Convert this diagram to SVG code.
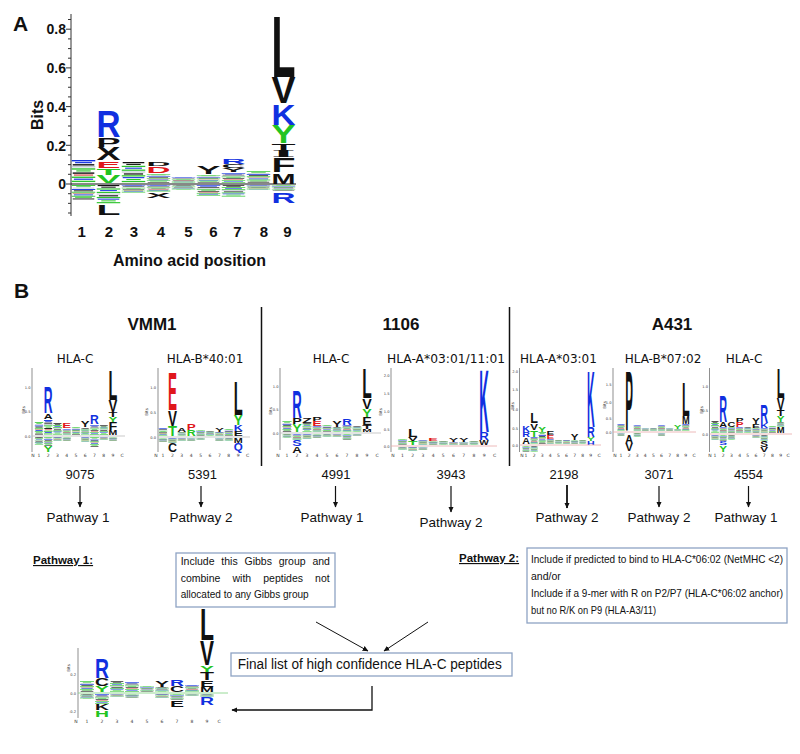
<svg xmlns="http://www.w3.org/2000/svg" xmlns:xlink="http://www.w3.org/1999/xlink" width="800" height="754" viewBox="0 0 800 754">
<style>
.lt{font-family:"Liberation Sans",Arial,sans-serif;font-weight:bold}
.lts{font-family:"Liberation Serif","Times New Roman",serif;font-weight:bold}
.bl{fill:#1030e0}.gr{fill:#22c422}.rd{fill:#e0161b}.bk{fill:#111}
.ax{stroke:#444;stroke-width:0.6;fill:none}
.z0{stroke:#bbb;stroke-width:0.8}
.zp{stroke:#e8a8a8;stroke-width:0.8}
.tk{font-family:"DejaVu Sans",sans-serif;font-size:3.6px;fill:#333;text-anchor:end}
.bt4{font-family:"DejaVu Sans",sans-serif;font-size:4px;fill:#333;text-anchor:middle}
.xl{font-family:"DejaVu Sans",sans-serif;font-size:4.5px;fill:#333;text-anchor:middle}
.hla{font-family:"DejaVu Sans",sans-serif;font-size:12px;fill:#111;text-anchor:middle}
.ttl{font-family:"Liberation Sans",Arial,sans-serif;font-weight:bold;font-size:17px;fill:#111;text-anchor:middle}
.num{font-family:"Liberation Sans",Arial,sans-serif;font-size:13px;fill:#111;text-anchor:middle}
.pw{font-family:"Liberation Sans",Arial,sans-serif;font-size:13.5px;fill:#111;text-anchor:middle}
.pl{font-family:"Liberation Sans",Arial,sans-serif;font-weight:bold;font-size:11.5px;fill:#111;text-decoration:underline}
.bx{fill:#fff;stroke:#8ea3c4;stroke-width:1.3}
.bt{font-family:"Liberation Sans",Arial,sans-serif;font-size:10.5px;fill:#111}
.conn{stroke:#111;stroke-width:1.2;fill:none}
.pa{font-family:"Liberation Sans",Arial,sans-serif;font-weight:bold;fill:#111}
</style>
<defs>
<marker id="ah" viewBox="0 0 10 10" refX="9" refY="5" markerWidth="6" markerHeight="6" markerUnits="userSpaceOnUse" orient="auto"><path d="M0,0.5 L10,5 L0,9.5 z" fill="#111"/></marker>
<symbol id="nA" viewBox="0 0 10 10" preserveAspectRatio="none">
<rect x="0" y="0" width="10" height="0.6" fill="#1030e0"/><rect x="1.5" y="0.9" width="7" height="0.5" fill="#1030e0"/><rect x="0.5" y="1.8" width="9" height="0.6" fill="#111"/><rect x="0" y="2.7" width="10" height="0.5" fill="#b9c0cc"/><rect x="0" y="3.6" width="10" height="0.6" fill="#2dc42d"/><rect x="2" y="4.5" width="6" height="0.5" fill="#2dc42d"/><rect x="0.5" y="5.4" width="9" height="0.6" fill="#111"/><rect x="1" y="6.3" width="8" height="0.5" fill="#d84040"/><rect x="0" y="7.2" width="10" height="0.6" fill="#2dc42d"/><rect x="1" y="8.1" width="8" height="0.5" fill="#1030e0"/><rect x="0" y="9.0" width="10" height="0.6" fill="#2dc42d"/>
</symbol>
<symbol id="nB" viewBox="0 0 10 10" preserveAspectRatio="none">
<rect x="0" y="0" width="10" height="0.6" fill="#2dc42d"/><rect x="2" y="0.9" width="6" height="0.5" fill="#2dc42d"/><rect x="0.5" y="1.8" width="9" height="0.5" fill="#b9c0cc"/><rect x="0" y="2.7" width="10" height="0.6" fill="#1030e0"/><rect x="1" y="3.6" width="8" height="0.6" fill="#111"/><rect x="0" y="4.5" width="10" height="0.6" fill="#2dc42d"/><rect x="0.5" y="5.4" width="9" height="0.5" fill="#c08a6a"/><rect x="1" y="6.3" width="8" height="0.6" fill="#1030e0"/><rect x="0" y="7.2" width="10" height="0.6" fill="#2dc42d"/><rect x="1.5" y="8.1" width="7" height="0.5" fill="#2dc42d"/><rect x="0.5" y="9.0" width="9" height="0.6" fill="#111"/>
</symbol>
<symbol id="nC" viewBox="0 0 10 10" preserveAspectRatio="none">
<rect x="0.5" y="0" width="9" height="0.6" fill="#111"/><rect x="2" y="0.9" width="6" height="0.5" fill="#111"/><rect x="0" y="1.8" width="10" height="0.6" fill="#2dc42d"/><rect x="1.5" y="2.7" width="7" height="0.5" fill="#1030e0"/><rect x="0" y="3.6" width="10" height="0.6" fill="#2dc42d"/><rect x="0" y="4.5" width="10" height="0.5" fill="#b9c0cc"/><rect x="1" y="5.4" width="8" height="0.6" fill="#111"/><rect x="0" y="6.3" width="10" height="0.6" fill="#2dc42d"/><rect x="0.5" y="7.2" width="9" height="0.5" fill="#1030e0"/><rect x="2" y="8.1" width="6" height="0.5" fill="#2dc42d"/><rect x="0" y="9.0" width="10" height="0.6" fill="#2dc42d"/>
</symbol>
</defs>
<rect width="800" height="754" fill="#fff"/>

<!-- PANEL A -->
<g id="panelA">
<text class="pa" x="13" y="31" font-size="21">A</text>
<line x1="71" y1="14" x2="71" y2="216" stroke="#333" stroke-width="1"/>
<path d="M68,19.5h3M66,29.2h5M68,38.9h3M68,48.6h3M68,58.2h3M66,67.9h5M68,77.6h3M68,87.25h3M68,96.9h3M66,106.6h5M68,116.3h3M68,126h3M68,135.6h3M66,145.3h5M68,155h3M68,164.65h3M68,174.3h3M66,184h5M68,193.7h3M68,203.35h3M68,213h3" stroke="#333" stroke-width="1"/>
<g class="pa" font-size="14" text-anchor="end">
<text x="66" y="34.3">0.8</text><text x="66" y="73.3">0.6</text><text x="66" y="111.7">0.4</text><text x="66" y="150.7">0.2</text><text x="66" y="189">0</text>
</g>
<text class="pa" font-size="16" text-anchor="middle" transform="translate(43,115) rotate(-90)">Bits</text>
<use href="#nA" x="71.5" y="160" width="24" height="23"/><use href="#nB" x="71.5" y="185" width="24" height="15"/>
<use href="#nC" x="121.5" y="162" width="24" height="21"/><use href="#nA" x="121.5" y="185" width="24" height="8"/>
<text class="lt bk" x="146.5" y="166" font-size="5.6" textLength="24" lengthAdjust="spacingAndGlyphs">D</text>
<text class="lt rd" x="146.5" y="173" font-size="8.4" textLength="24" lengthAdjust="spacingAndGlyphs">D</text>
<use href="#nB" x="146.5" y="174" width="24" height="9"/><use href="#nA" x="146.5" y="185" width="24" height="7"/>
<text class="lt bk" x="146.5" y="198" font-size="7" textLength="24" lengthAdjust="spacingAndGlyphs">X</text>
<use href="#nA" x="171.5" y="177" width="24" height="6"/><use href="#nC" x="171.5" y="185" width="24" height="5"/>
<text class="lt bk" x="196.5" y="174" font-size="11.2" textLength="24" lengthAdjust="spacingAndGlyphs">Y</text>
<use href="#nB" x="196.5" y="175" width="24" height="8"/><use href="#nA" x="196.5" y="185" width="24" height="11"/>
<text class="lt bl" x="221.5" y="164" font-size="7" textLength="24" lengthAdjust="spacingAndGlyphs">R</text>
<text class="lt bk" x="221.5" y="168" font-size="5.6" textLength="24" lengthAdjust="spacingAndGlyphs">C</text>
<text class="lt bk" x="221.5" y="172" font-size="5.6" textLength="24" lengthAdjust="spacingAndGlyphs">Y</text>
<use href="#nA" x="221.5" y="173" width="24" height="10"/><use href="#nC" x="221.5" y="185" width="24" height="12"/>
<use href="#nB" x="246.5" y="171" width="24" height="12"/><use href="#nA" x="246.5" y="185" width="24" height="5"/>
<text class="lt bl" x="96.5" y="137" font-size="37.7" textLength="24" lengthAdjust="spacingAndGlyphs">R</text>
<text class="lt bk" x="96.5" y="147" font-size="13.3" textLength="24" lengthAdjust="spacingAndGlyphs">P</text>
<text class="lt bk" x="96.5" y="160" font-size="17.5" textLength="24" lengthAdjust="spacingAndGlyphs">X</text>
<text class="lt rd" x="96.5" y="168" font-size="9.8" textLength="24" lengthAdjust="spacingAndGlyphs">E</text>
<text class="lt gr" x="96.5" y="175" font-size="9.1" textLength="24" lengthAdjust="spacingAndGlyphs">T</text>
<text class="lt gr" x="96.5" y="182.5" font-size="10.5" textLength="24" lengthAdjust="spacingAndGlyphs">V</text>
<use href="#nC" x="96.5" y="185" width="24" height="19"/>
<text class="lt bk" x="96.5" y="215" font-size="14" textLength="24" lengthAdjust="spacingAndGlyphs">L</text>
<text class="lt bk" x="271.5" y="77" font-size="86.6" textLength="24" lengthAdjust="spacingAndGlyphs">L</text>
<text class="lt bk" x="271.5" y="103" font-size="36.3" textLength="24" lengthAdjust="spacingAndGlyphs">V</text>
<text class="lt bl" x="271.5" y="125" font-size="29.3" textLength="24" lengthAdjust="spacingAndGlyphs">K</text>
<text class="lt gr" x="271.5" y="143" font-size="25.1" textLength="24" lengthAdjust="spacingAndGlyphs">Y</text>
<text class="lt bk" x="271.5" y="150" font-size="9.8" textLength="24" lengthAdjust="spacingAndGlyphs">T</text>
<text class="lts bk" x="271.5" y="157" font-size="10.6" textLength="24" lengthAdjust="spacingAndGlyphs">I</text>
<text class="lt bk" x="271.5" y="172" font-size="20.9" textLength="24" lengthAdjust="spacingAndGlyphs">F</text>
<text class="lt bk" x="271.5" y="183.5" font-size="14.7" textLength="24" lengthAdjust="spacingAndGlyphs">M</text>
<use href="#nB" x="271.5" y="185" width="24" height="6"/>
<text class="lt bl" x="271.5" y="203" font-size="14" textLength="24" lengthAdjust="spacingAndGlyphs">R</text>
<line x1="71" y1="184" x2="296" y2="184" stroke="#111" stroke-width="1"/>
<g class="pa" font-size="15" text-anchor="middle">
<text x="81.7" y="237">1</text><text x="109" y="237">2</text><text x="134" y="237">3</text><text x="161" y="237">4</text><text x="188.3" y="237">5</text><text x="213.3" y="237">6</text><text x="237.3" y="237">7</text><text x="264" y="237">8</text><text x="287.3" y="237">9</text>
</g>
<text class="pa" x="189.5" y="266" font-size="16" text-anchor="middle">Amino acid position</text>
</g>

<g id="panelB-headers">
<text class="pa" x="14" y="298" font-size="21">B</text>
<text class="ttl" x="152" y="330">VMM1</text>
<text class="ttl" x="401" y="330">1106</text>
<text class="ttl" x="672" y="330">A431</text>
<line x1="261.5" y1="307" x2="261.5" y2="466" stroke="#111" stroke-width="1.5"/>
<line x1="509.5" y1="307" x2="509.5" y2="466" stroke="#111" stroke-width="1.5"/>
<text class="hla" x="75" y="363">HLA-C</text>
<text class="hla" x="205" y="363">HLA-B*40:01</text>
<text class="hla" x="331" y="363">HLA-C</text>
<text class="hla" x="446" y="363" textLength="118" lengthAdjust="spacingAndGlyphs">HLA-A*03:01/11:01</text>
<text class="hla" x="558.5" y="363">HLA-A*03:01</text>
<text class="hla" x="663" y="363">HLA-B*07:02</text>
<text class="hla" x="744" y="363">HLA-C</text>
</g>

<g id="logo-vmm1-hlac">
<line class="ax" x1="32" y1="368" x2="32" y2="452"/>
<text class="tk" x="30.5" y="388.5">1.0</text><text class="tk" x="30.5" y="412.5">0.5</text><text class="tk" x="30.5" y="437.5">0.0</text>
<text class="bt4" transform="translate(25,410) rotate(-90)">Bits</text>
<use href="#nB" x="34.6" y="422" width="8.8" height="13"/><use href="#nC" x="34.6" y="437" width="8.8" height="8"/>
<text class="lt bl" x="43.85" y="413" font-size="37.7" textLength="8.8" lengthAdjust="spacingAndGlyphs">R</text>
<text class="lt bk" x="43.85" y="419" font-size="7" textLength="8.8" lengthAdjust="spacingAndGlyphs">A</text>
<use href="#nA" x="43.85" y="420" width="8.8" height="15"/><use href="#nB" x="43.85" y="437" width="8.8" height="9"/>
<text class="lt gr" x="43.85" y="452" font-size="8.4" textLength="8.8" lengthAdjust="spacingAndGlyphs">Y</text>
<use href="#nC" x="53.1" y="423" width="8.8" height="12"/><use href="#nA" x="53.1" y="437" width="8.8" height="4"/>
<text class="lt rd" x="62.35" y="428" font-size="7" textLength="8.8" lengthAdjust="spacingAndGlyphs">E</text>
<use href="#nA" x="62.35" y="429" width="8.8" height="6"/><use href="#nB" x="62.35" y="437" width="8.8" height="4"/>
<use href="#nB" x="71.6" y="427" width="8.8" height="8"/>
<text class="lt bk" x="80.85" y="427" font-size="8.4" textLength="8.8" lengthAdjust="spacingAndGlyphs">Y</text>
<use href="#nC" x="80.85" y="428" width="8.8" height="7"/><use href="#nA" x="80.85" y="437" width="8.8" height="5"/>
<text class="lt bl" x="90.1" y="424" font-size="12.6" textLength="8.8" lengthAdjust="spacingAndGlyphs">R</text>
<use href="#nA" x="90.1" y="425" width="8.8" height="10"/><use href="#nB" x="90.1" y="437" width="8.8" height="10"/>
<use href="#nC" x="99.35" y="425" width="8.8" height="10"/><use href="#nA" x="99.35" y="437" width="8.8" height="3"/>
<text class="lt bk" x="108.6" y="400" font-size="41.9" textLength="8.8" lengthAdjust="spacingAndGlyphs">L</text>
<text class="lt bk" x="108.6" y="412" font-size="16.8" textLength="8.8" lengthAdjust="spacingAndGlyphs">V</text>
<text class="lt bk" x="108.6" y="417" font-size="7" textLength="8.8" lengthAdjust="spacingAndGlyphs">T</text>
<text class="lt gr" x="108.6" y="422" font-size="7" textLength="8.8" lengthAdjust="spacingAndGlyphs">Y</text>
<text class="lt bk" x="108.6" y="430" font-size="11.2" textLength="8.8" lengthAdjust="spacingAndGlyphs">F</text>
<text class="lt bk" x="108.6" y="435" font-size="7" textLength="8.8" lengthAdjust="spacingAndGlyphs">M</text>
<use href="#nB" x="108.6" y="437" width="8.8" height="4"/>
<line class="z0" x1="32" y1="436" x2="125" y2="436"/>
<g class="xl"><text x="33" y="457">N</text><text x="39" y="457">1</text><text x="48.25" y="457">2</text><text x="57.5" y="457">3</text><text x="66.75" y="457">4</text><text x="76" y="457">5</text><text x="85.25" y="457">6</text><text x="94.5" y="457">7</text><text x="103.75" y="457">8</text><text x="113" y="457">9</text><text x="122" y="457">C</text></g>
</g>

<g id="logo-vmm1-hlab4001">
<line class="ax" x1="158" y1="368" x2="158" y2="452"/>
<text class="tk" x="156" y="389">1.0</text><text class="tk" x="156" y="414">0.5</text><text class="tk" x="156" y="439">0.0</text>
<text class="bt4" transform="translate(148,412) rotate(-90)">Bits</text>
<use href="#nA" x="158.5" y="428" width="9" height="8"/><use href="#nB" x="158.5" y="438" width="9" height="4"/>
<text class="lt rd" x="167.9" y="410" font-size="53.1" textLength="9" lengthAdjust="spacingAndGlyphs">E</text>
<text class="lt bk" x="167.9" y="426" font-size="22.3" textLength="9" lengthAdjust="spacingAndGlyphs">V</text>
<text class="lt gr" x="167.9" y="436" font-size="14" textLength="9" lengthAdjust="spacingAndGlyphs">T</text>
<use href="#nA" x="167.9" y="438" width="9" height="5"/>
<text class="lt bk" x="167.9" y="452" font-size="12.6" textLength="9" lengthAdjust="spacingAndGlyphs">C</text>
<text class="lt bk" x="177.3" y="432" font-size="5.6" textLength="9" lengthAdjust="spacingAndGlyphs">A</text>
<use href="#nC" x="177.3" y="432" width="9" height="4"/><use href="#nA" x="177.3" y="438" width="9" height="3"/>
<text class="lt rd" x="186.7" y="430" font-size="8.4" textLength="9" lengthAdjust="spacingAndGlyphs">P</text>
<text class="lt gr" x="186.7" y="436" font-size="8.4" textLength="9" lengthAdjust="spacingAndGlyphs">R</text>
<use href="#nB" x="186.7" y="438" width="9" height="3"/>
<use href="#nB" x="196.1" y="430" width="9" height="6"/><use href="#nC" x="196.1" y="438" width="9" height="2"/>
<use href="#nC" x="205.5" y="431" width="9" height="5"/>
<text class="lt bk" x="214.9" y="432" font-size="5.6" textLength="9" lengthAdjust="spacingAndGlyphs">Y</text>
<use href="#nA" x="214.9" y="432" width="9" height="4"/><use href="#nB" x="214.9" y="438" width="9" height="3"/>
<use href="#nB" x="224.3" y="429" width="9" height="7"/><use href="#nC" x="224.3" y="438" width="9" height="3"/>
<text class="lt bk" x="233.7" y="415" font-size="48.9" textLength="9" lengthAdjust="spacingAndGlyphs">L</text>
<text class="lt gr" x="233.7" y="425" font-size="14" textLength="9" lengthAdjust="spacingAndGlyphs">Y</text>
<text class="lt bl" x="233.7" y="431" font-size="8.4" textLength="9" lengthAdjust="spacingAndGlyphs">K</text>
<text class="lt bk" x="233.7" y="436" font-size="7" textLength="9" lengthAdjust="spacingAndGlyphs">E</text>
<text class="lt bk" x="233.7" y="443" font-size="7" textLength="9" lengthAdjust="spacingAndGlyphs">M</text>
<text class="lt bl" x="233.7" y="451" font-size="11.2" textLength="9" lengthAdjust="spacingAndGlyphs">Q</text>
<line class="z0" x1="158" y1="437" x2="250" y2="437"/>
<g class="xl"><text x="156" y="457">N</text><text x="163" y="457">1</text><text x="172.4" y="457">2</text><text x="181.8" y="457">3</text><text x="191.2" y="457">4</text><text x="200.6" y="457">5</text><text x="210" y="457">6</text><text x="219.4" y="457">7</text><text x="228.8" y="457">8</text><text x="238.2" y="457">9</text><text x="247.6" y="457">C</text></g>
</g>

<g id="logo-1106-hlac">
<line class="ax" x1="280" y1="368" x2="280" y2="450"/>
<text class="tk" x="278.5" y="388">1.0</text><text class="tk" x="278.5" y="411">0.5</text><text class="tk" x="278.5" y="435">0.0</text>
<text class="bt4" transform="translate(272,411) rotate(-90)">Bits</text>
<use href="#nB" x="282.25" y="421" width="9.5" height="11"/><use href="#nC" x="282.25" y="434" width="9.5" height="4"/>
<text class="lt bl" x="292.25" y="418" font-size="39.1" textLength="9.5" lengthAdjust="spacingAndGlyphs">R</text>
<text class="lt bk" x="292.25" y="424" font-size="8.4" textLength="9.5" lengthAdjust="spacingAndGlyphs">P</text>
<text class="lt gr" x="292.25" y="432" font-size="11.2" textLength="9.5" lengthAdjust="spacingAndGlyphs">Y</text>
<use href="#nA" x="292.25" y="434" width="9.5" height="6"/>
<text class="lt bl" x="292.25" y="446" font-size="8.4" textLength="9.5" lengthAdjust="spacingAndGlyphs">S</text>
<text class="lt bk" x="292.25" y="453" font-size="9.8" textLength="9.5" lengthAdjust="spacingAndGlyphs">A</text>
<text class="lt bk" x="302.25" y="423" font-size="7" textLength="9.5" lengthAdjust="spacingAndGlyphs">Z</text>
<use href="#nC" x="302.25" y="423" width="9.5" height="9"/><use href="#nA" x="302.25" y="434" width="9.5" height="5"/>
<text class="lt bk" x="312.25" y="421" font-size="5.6" textLength="9.5" lengthAdjust="spacingAndGlyphs">P</text>
<text class="lt rd" x="312.25" y="426" font-size="7" textLength="9.5" lengthAdjust="spacingAndGlyphs">E</text>
<use href="#nA" x="312.25" y="426" width="9.5" height="6"/><use href="#nB" x="312.25" y="434" width="9.5" height="4"/>
<use href="#nB" x="322.25" y="425" width="9.5" height="7"/><use href="#nC" x="322.25" y="434" width="9.5" height="3"/>
<text class="lt bk" x="332.25" y="427" font-size="8.4" textLength="9.5" lengthAdjust="spacingAndGlyphs">Y</text>
<use href="#nC" x="332.25" y="427" width="9.5" height="5"/><use href="#nA" x="332.25" y="434" width="9.5" height="3"/>
<text class="lt bl" x="342.25" y="425" font-size="9.8" textLength="9.5" lengthAdjust="spacingAndGlyphs">R</text>
<use href="#nA" x="342.25" y="425" width="9.5" height="7"/><use href="#nB" x="342.25" y="434" width="9.5" height="6"/>
<use href="#nC" x="352.25" y="426" width="9.5" height="6"/><use href="#nA" x="352.25" y="434" width="9.5" height="2"/>
<text class="lt bk" x="362.25" y="398" font-size="41.9" textLength="9.5" lengthAdjust="spacingAndGlyphs">L</text>
<text class="lt bk" x="362.25" y="409" font-size="15.4" textLength="9.5" lengthAdjust="spacingAndGlyphs">V</text>
<text class="lt gr" x="362.25" y="417" font-size="11.2" textLength="9.5" lengthAdjust="spacingAndGlyphs">Y</text>
<text class="lt bk" x="362.25" y="425" font-size="11.2" textLength="9.5" lengthAdjust="spacingAndGlyphs">E</text>
<text class="lt bk" x="362.25" y="429" font-size="5.6" textLength="9.5" lengthAdjust="spacingAndGlyphs">T</text>
<text class="lt bk" x="362.25" y="432" font-size="4.2" textLength="9.5" lengthAdjust="spacingAndGlyphs">M</text>
<line class="z0" x1="280" y1="433" x2="381" y2="433"/>
<g class="xl"><text x="278" y="457">N</text><text x="287" y="457">1</text><text x="297" y="457">2</text><text x="307" y="457">3</text><text x="317" y="457">4</text><text x="327" y="457">5</text><text x="337" y="457">6</text><text x="347" y="457">7</text><text x="357" y="457">8</text><text x="367" y="457">9</text><text x="377" y="457">C</text></g>
</g>

<g id="logo-1106-hlaa0311">
<line class="ax" x1="391" y1="368" x2="391" y2="452"/>
<text class="tk" x="389.5" y="377">2.0</text><text class="tk" x="389.5" y="395">1.5</text><text class="tk" x="389.5" y="413">1.0</text><text class="tk" x="389.5" y="431">0.5</text><text class="tk" x="389.5" y="448">0.0</text>
<text class="bt4" transform="translate(382,412) rotate(-90)">Bits</text>
<use href="#nB" x="397.75" y="439" width="9.5" height="6"/><use href="#nC" x="397.75" y="447" width="9.5" height="3"/>
<text class="lt bk" x="407.95" y="437" font-size="11.2" textLength="9.5" lengthAdjust="spacingAndGlyphs">L</text>
<text class="lt bk" x="407.95" y="441" font-size="5.6" textLength="9.5" lengthAdjust="spacingAndGlyphs">V</text>
<text class="lt gr" x="407.95" y="445" font-size="5.6" textLength="9.5" lengthAdjust="spacingAndGlyphs">T</text>
<use href="#nA" x="407.95" y="447" width="9.5" height="4"/>
<use href="#nA" x="418.15" y="440" width="9.5" height="5"/><use href="#nB" x="418.15" y="447" width="9.5" height="3"/>
<text class="lt rd" x="428.35" y="441" font-size="4.2" textLength="9.5" lengthAdjust="spacingAndGlyphs">E</text>
<use href="#nB" x="428.35" y="441" width="9.5" height="4"/>
<use href="#nC" x="438.55" y="441" width="9.5" height="4"/>
<text class="lt bk" x="448.75" y="442" font-size="5.6" textLength="9.5" lengthAdjust="spacingAndGlyphs">Y</text>
<use href="#nA" x="448.75" y="442" width="9.5" height="3"/>
<text class="lt bk" x="458.95" y="442" font-size="5.6" textLength="9.5" lengthAdjust="spacingAndGlyphs">Y</text>
<use href="#nB" x="458.95" y="442" width="9.5" height="3"/>
<use href="#nC" x="469.15" y="441" width="9.5" height="4"/>
<text class="lt bl" transform="translate(479.35,432) scale(0.1486,1)" font-size="89.4">K</text>
<text class="lt bl" x="479.35" y="440" font-size="11.2" textLength="9.5" lengthAdjust="spacingAndGlyphs">R</text>
<text class="lt bk" x="479.35" y="445" font-size="7" textLength="9.5" lengthAdjust="spacingAndGlyphs">W</text>
<line class="zp" x1="391" y1="446" x2="497" y2="446"/>
<g class="xl"><text x="393" y="457">N</text><text x="402.5" y="457">1</text><text x="412.7" y="457">2</text><text x="422.9" y="457">3</text><text x="433.1" y="457">4</text><text x="443.3" y="457">5</text><text x="453.5" y="457">6</text><text x="463.7" y="457">7</text><text x="473.9" y="457">8</text><text x="484.1" y="457">9</text><text x="494.5" y="457">C</text></g>
</g>

<g id="logo-a431-hlaa0301">
<line class="ax" x1="519.5" y1="368" x2="519.5" y2="452"/>
<text class="tk" x="518" y="373">2.0</text><text class="tk" x="518" y="391">1.5</text><text class="tk" x="518" y="411">1.0</text><text class="tk" x="518" y="430">0.5</text><text class="tk" x="518" y="447">0.0</text>
<text class="bt4" transform="translate(514,406) rotate(-90)">Bits</text>
<text class="lt bl" x="522.15" y="432" font-size="9.8" textLength="7.7" lengthAdjust="spacingAndGlyphs">K</text>
<text class="lt bl" x="522.15" y="437" font-size="7" textLength="7.7" lengthAdjust="spacingAndGlyphs">R</text>
<text class="lt bk" x="522.15" y="444" font-size="9.8" textLength="7.7" lengthAdjust="spacingAndGlyphs">A</text>
<use href="#nB" x="522.15" y="446" width="7.7" height="6"/>
<text class="lt bk" x="530.25" y="423" font-size="14" textLength="7.7" lengthAdjust="spacingAndGlyphs">L</text>
<text class="lt bk" x="530.25" y="430" font-size="9.8" textLength="7.7" lengthAdjust="spacingAndGlyphs">V</text>
<text class="lt gr" x="530.25" y="437" font-size="9.8" textLength="7.7" lengthAdjust="spacingAndGlyphs">T</text>
<use href="#nA" x="530.25" y="437" width="7.7" height="7"/><use href="#nC" x="530.25" y="446" width="7.7" height="6"/>
<text class="lt gr" x="538.35" y="432" font-size="7" textLength="7.7" lengthAdjust="spacingAndGlyphs">Y</text>
<use href="#nB" x="538.35" y="432" width="7.7" height="12"/>
<text class="lt bk" x="546.45" y="435" font-size="5.6" textLength="7.7" lengthAdjust="spacingAndGlyphs">E</text>
<text class="lt rd" x="546.45" y="439" font-size="5.6" textLength="7.7" lengthAdjust="spacingAndGlyphs">E</text>
<use href="#nA" x="546.45" y="439" width="7.7" height="5"/>
<use href="#nC" x="554.55" y="440" width="7.7" height="4"/>
<use href="#nA" x="562.65" y="440" width="7.7" height="4"/>
<text class="lt bk" x="570.75" y="440" font-size="8.4" textLength="7.7" lengthAdjust="spacingAndGlyphs">Y</text>
<use href="#nB" x="570.75" y="440" width="7.7" height="4"/>
<use href="#nC" x="578.85" y="440" width="7.7" height="4"/>
<text class="lt bl" transform="translate(586.95,427) scale(0.1333,1)" font-size="79.6">K</text>
<text class="lt bl" x="586.95" y="437" font-size="14" textLength="7.7" lengthAdjust="spacingAndGlyphs">R</text>
<text class="lt gr" x="586.95" y="441" font-size="5.6" textLength="7.7" lengthAdjust="spacingAndGlyphs">Y</text>
<text class="lt bl" x="586.95" y="445" font-size="5.6" textLength="7.7" lengthAdjust="spacingAndGlyphs">H</text>
<line class="zp" x1="519.5" y1="445" x2="601" y2="445"/>
<g class="xl"><text x="522" y="457">N</text><text x="526" y="457">1</text><text x="534.1" y="457">2</text><text x="542.2" y="457">3</text><text x="550.3" y="457">4</text><text x="558.4" y="457">5</text><text x="566.5" y="457">6</text><text x="574.6" y="457">7</text><text x="582.7" y="457">8</text><text x="590.8" y="457">9</text><text x="599" y="457">C</text></g>
</g>

<g id="logo-a431-hlab0702">
<line class="ax" x1="613" y1="368" x2="613" y2="452"/>
<text class="tk" x="611.5" y="386">1.5</text><text class="tk" x="611.5" y="404">1.0</text><text class="tk" x="611.5" y="420">0.5</text><text class="tk" x="611.5" y="434">0.0</text>
<text class="bt4" transform="translate(606,405) rotate(-90)">Bits</text>
<use href="#nA" x="617.15" y="424" width="7.7" height="7"/><use href="#nB" x="617.15" y="433" width="7.7" height="3"/>
<text class="lt bk" transform="translate(625.25,431) scale(0.1355,1)" font-size="85.2">P</text>
<text class="lt bk" x="625.25" y="443" font-size="11.2" textLength="7.7" lengthAdjust="spacingAndGlyphs">A</text>
<text class="lt bk" x="625.25" y="451" font-size="11.2" textLength="7.7" lengthAdjust="spacingAndGlyphs">V</text>
<use href="#nA" x="633.35" y="425" width="7.7" height="6"/><use href="#nC" x="633.35" y="433" width="7.7" height="4"/>
<use href="#nB" x="641.45" y="428" width="7.7" height="3"/>
<use href="#nC" x="649.55" y="428" width="7.7" height="3"/>
<use href="#nA" x="657.65" y="425" width="7.7" height="6"/><use href="#nB" x="657.65" y="433" width="7.7" height="3"/>
<use href="#nB" x="665.75" y="428" width="7.7" height="3"/>
<text class="lt gr" x="673.85" y="429" font-size="5.6" textLength="7.7" lengthAdjust="spacingAndGlyphs">Y</text>
<use href="#nC" x="673.85" y="429" width="7.7" height="2"/>
<text class="lt bk" transform="translate(681.95,416) scale(0.2653,1)" font-size="47.5">L</text>
<text class="lt bk" x="681.95" y="424" font-size="11.2" textLength="7.7" lengthAdjust="spacingAndGlyphs">M</text>
<use href="#nA" x="681.95" y="424" width="7.7" height="7"/>
<line class="zp" x1="613" y1="432" x2="696" y2="432"/>
<g class="xl"><text x="615" y="457">N</text><text x="621" y="457">1</text><text x="629.1" y="457">2</text><text x="637.2" y="457">3</text><text x="645.3" y="457">4</text><text x="653.4" y="457">5</text><text x="661.5" y="457">6</text><text x="669.6" y="457">7</text><text x="677.7" y="457">8</text><text x="685.8" y="457">9</text><text x="694" y="457">C</text></g>
</g>

<g id="logo-a431-hlac">
<line class="ax" x1="709.5" y1="368" x2="709.5" y2="452"/>
<text class="tk" x="708" y="388">1.0</text><text class="tk" x="708" y="412">0.5</text><text class="tk" x="708" y="436">0.0</text>
<text class="bt4" transform="translate(703,410) rotate(-90)">Bits</text>
<use href="#nC" x="711.1" y="421" width="7.8" height="12"/><use href="#nA" x="711.1" y="435" width="7.8" height="5"/>
<text class="lt bl" x="719.3" y="422" font-size="37.7" textLength="7.8" lengthAdjust="spacingAndGlyphs">R</text>
<text class="lt bk" x="719.3" y="427" font-size="7" textLength="7.8" lengthAdjust="spacingAndGlyphs">A</text>
<use href="#nA" x="719.3" y="427" width="7.8" height="6"/><use href="#nB" x="719.3" y="435" width="7.8" height="6"/>
<text class="lt bl" x="719.3" y="445" font-size="5.6" textLength="7.8" lengthAdjust="spacingAndGlyphs">S</text>
<text class="lt gr" x="719.3" y="452" font-size="9.8" textLength="7.8" lengthAdjust="spacingAndGlyphs">Y</text>
<text class="lt bk" x="727.5" y="427" font-size="7" textLength="7.8" lengthAdjust="spacingAndGlyphs">C</text>
<use href="#nB" x="727.5" y="427" width="7.8" height="6"/><use href="#nC" x="727.5" y="435" width="7.8" height="5"/>
<text class="lt bk" x="735.7" y="422" font-size="5.6" textLength="7.8" lengthAdjust="spacingAndGlyphs">P</text>
<text class="lt rd" x="735.7" y="427" font-size="7" textLength="7.8" lengthAdjust="spacingAndGlyphs">P</text>
<use href="#nA" x="735.7" y="427" width="7.8" height="6"/>
<use href="#nC" x="743.9" y="427" width="7.8" height="6"/>
<text class="lt bk" x="752.1" y="424" font-size="8.4" textLength="7.8" lengthAdjust="spacingAndGlyphs">Y</text>
<text class="lt bk" x="752.1" y="428" font-size="5.6" textLength="7.8" lengthAdjust="spacingAndGlyphs">E</text>
<use href="#nB" x="752.1" y="428" width="7.8" height="5"/><use href="#nA" x="752.1" y="435" width="7.8" height="3"/>
<text class="lt bl" x="760.3" y="423" font-size="25.1" textLength="7.8" lengthAdjust="spacingAndGlyphs">R</text>
<text class="lt bl" x="760.3" y="428" font-size="7" textLength="7.8" lengthAdjust="spacingAndGlyphs">K</text>
<use href="#nA" x="760.3" y="428" width="7.8" height="5"/><use href="#nC" x="760.3" y="435" width="7.8" height="6"/>
<text class="lt bk" x="760.3" y="447" font-size="8.4" textLength="7.8" lengthAdjust="spacingAndGlyphs">S</text>
<text class="lt bk" x="760.3" y="452" font-size="7" textLength="7.8" lengthAdjust="spacingAndGlyphs">V</text>
<use href="#nB" x="768.5" y="426" width="7.8" height="7"/>
<text class="lt bk" transform="translate(776.7,398) scale(0.3047,1)" font-size="41.9">L</text>
<text class="lt bk" x="776.7" y="410" font-size="16.8" textLength="7.8" lengthAdjust="spacingAndGlyphs">V</text>
<text class="lt bk" x="776.7" y="416" font-size="8.4" textLength="7.8" lengthAdjust="spacingAndGlyphs">T</text>
<text class="lt gr" x="776.7" y="422" font-size="8.4" textLength="7.8" lengthAdjust="spacingAndGlyphs">Y</text>
<use href="#nC" x="776.7" y="422" width="7.8" height="5"/>
<text class="lt bk" x="776.7" y="433" font-size="8.4" textLength="7.8" lengthAdjust="spacingAndGlyphs">M</text>
<line class="zp" x1="709.5" y1="434" x2="792" y2="434"/>
<g class="xl"><text x="710" y="457">N</text><text x="715" y="457">1</text><text x="723.2" y="457">2</text><text x="731.4" y="457">3</text><text x="739.6" y="457">4</text><text x="747.8" y="457">5</text><text x="756" y="457">6</text><text x="764.2" y="457">7</text><text x="772.4" y="457">8</text><text x="780.6" y="457">9</text><text x="788" y="457">C</text></g>
</g>

<g id="counts">
<text class="num" x="80" y="479">9075</text>
<text class="num" x="202.5" y="479">5391</text>
<text class="num" x="336" y="479">4991</text>
<text class="num" x="451" y="479">3943</text>
<text class="num" x="564" y="479">2198</text>
<text class="num" x="659" y="479">3071</text>
<text class="num" x="748.5" y="479">4554</text>
</g>
<g id="pathway-labels">
<text class="pw" x="78" y="522">Pathway 1</text>
<text class="pw" x="201" y="522">Pathway 2</text>
<text class="pw" x="332" y="522">Pathway 1</text>
<text class="pw" x="451" y="527">Pathway 2</text>
<text class="pw" x="567" y="522">Pathway 2</text>
<text class="pw" x="659" y="522">Pathway 2</text>
<text class="pw" x="746" y="522">Pathway 1</text>
</g>

<g id="pathway1">
<text class="pl" x="33" y="564">Pathway 1:</text>
<rect class="bx" x="176" y="553" width="159" height="54"/>
<text class="bt" x="180.7" y="565" word-spacing="3.9">Include this Gibbs group and</text>
<text class="bt" x="180.7" y="582" word-spacing="9.2">combine with peptides not</text>
<text class="bt" x="180.7" y="598" textLength="128" lengthAdjust="spacingAndGlyphs">allocated to any Gibbs group</text>
</g>
<g id="pathway2">
<text class="pl" x="459" y="562">Pathway 2:</text>
<rect class="bx" x="527" y="548" width="260" height="75"/>
<text class="bt" x="531" y="563" textLength="252" lengthAdjust="spacingAndGlyphs">Include if predicted to bind to HLA-C*06:02 (NetMHC &lt;2)</text>
<text class="bt" x="531" y="580">and/or</text>
<text class="bt" x="531" y="597" textLength="252" lengthAdjust="spacingAndGlyphs">Include if a 9-mer with R on P2/P7 (HLA-C*06:02 anchor)</text>
<text class="bt" x="531" y="614" textLength="125" lengthAdjust="spacingAndGlyphs">but no R/K on P9 (HLA-A3/11)</text>
</g>
<g id="final">
<rect class="bx" x="231" y="653" width="281" height="23"/>
<text x="237.7" y="669" font-family="Liberation Sans, Arial, sans-serif" font-size="14" fill="#111" textLength="264" lengthAdjust="spacingAndGlyphs">Final list of high confidence HLA-C peptides</text>
</g>

<g id="logo-final">
<line class="ax" x1="78" y1="648" x2="78" y2="718"/>
<text class="tk" x="76" y="676">0.2</text><text class="tk" x="76" y="695">0.0</text><text class="tk" x="76" y="713">-0.2</text>
<text class="bt4" transform="translate(70,668) rotate(-90)">Bits</text>
<use href="#nB" x="80" y="681" width="14" height="11"/><use href="#nC" x="80" y="694" width="14" height="5"/>
<text class="lt bl" x="95" y="678" font-size="27.9" textLength="14" lengthAdjust="spacingAndGlyphs">R</text>
<text class="lt bk" x="95" y="686" font-size="11.2" textLength="14" lengthAdjust="spacingAndGlyphs">C</text>
<text class="lt gr" x="95" y="692" font-size="8.4" textLength="14" lengthAdjust="spacingAndGlyphs">Y</text>
<use href="#nA" x="95" y="694" width="14" height="10"/>
<text class="lt bk" x="95" y="710" font-size="8.4" textLength="14" lengthAdjust="spacingAndGlyphs">K</text>
<text class="lt gr" x="95" y="717" font-size="9.8" textLength="14" lengthAdjust="spacingAndGlyphs">H</text>
<use href="#nC" x="110" y="681" width="14" height="11"/><use href="#nA" x="110" y="694" width="14" height="3"/>
<use href="#nA" x="125" y="682" width="14" height="10"/><use href="#nB" x="125" y="694" width="14" height="4"/>
<use href="#nB" x="140" y="686" width="14" height="6"/>
<text class="lt bk" x="155" y="687" font-size="8.4" textLength="14" lengthAdjust="spacingAndGlyphs">Y</text>
<use href="#nC" x="155" y="687" width="14" height="5"/><use href="#nA" x="155" y="694" width="14" height="4"/>
<text class="lt bl" x="170" y="686" font-size="9.8" textLength="14" lengthAdjust="spacingAndGlyphs">R</text>
<text class="lt bk" x="170" y="692" font-size="8.4" textLength="14" lengthAdjust="spacingAndGlyphs">C</text>
<use href="#nB" x="170" y="694" width="14" height="6"/>
<text class="lt bk" x="170" y="707" font-size="9.8" textLength="14" lengthAdjust="spacingAndGlyphs">E</text>
<use href="#nA" x="185" y="685" width="14" height="7"/><use href="#nC" x="185" y="694" width="14" height="2"/>
<text class="lt bk" x="200" y="640" font-size="44.7" textLength="14" lengthAdjust="spacingAndGlyphs">L</text>
<text class="lt bk" x="200" y="665" font-size="34.9" textLength="14" lengthAdjust="spacingAndGlyphs">V</text>
<text class="lt gr" x="200" y="672" font-size="9.8" textLength="14" lengthAdjust="spacingAndGlyphs">Y</text>
<text class="lt bk" x="200" y="680" font-size="11.2" textLength="14" lengthAdjust="spacingAndGlyphs">T</text>
<text class="lt bk" x="200" y="687" font-size="9.8" textLength="14" lengthAdjust="spacingAndGlyphs">E</text>
<text class="lt bk" x="200" y="692" font-size="7" textLength="14" lengthAdjust="spacingAndGlyphs">M</text>
<use href="#nC" x="200" y="694" width="14" height="3"/>
<text class="lt bl" x="200" y="705" font-size="11.2" textLength="14" lengthAdjust="spacingAndGlyphs">R</text>
<line x1="78" y1="693" x2="228" y2="693" stroke="#7fd07f" stroke-width="0.8"/>
<g class="xl"><text x="76" y="723">N</text><text x="87" y="723">1</text><text x="102" y="723">2</text><text x="117" y="723">3</text><text x="132" y="723">4</text><text x="147" y="723">5</text><text x="162" y="723">6</text><text x="177" y="723">7</text><text x="192" y="723">8</text><text x="207" y="723">9</text><text x="219" y="723">C</text></g>
</g>

<g id="connectors" class="conn">
<line x1="80" y1="486" x2="80" y2="507" marker-end="url(#ah)"/>
<line x1="201" y1="486" x2="201" y2="507" marker-end="url(#ah)"/>
<line x1="335.5" y1="486" x2="335.5" y2="507" marker-end="url(#ah)"/>
<line x1="451" y1="486" x2="451" y2="512" marker-end="url(#ah)"/>
<line x1="567" y1="485" x2="567" y2="508" stroke-width="1.8" marker-end="url(#ah)"/>
<line x1="659" y1="486" x2="659" y2="507" marker-end="url(#ah)"/>
<line x1="748.5" y1="486" x2="748.5" y2="507" marker-end="url(#ah)"/>
<line x1="316" y1="622" x2="368" y2="651" stroke-width="1" marker-end="url(#ah)"/>
<line x1="428" y1="622" x2="384" y2="651" stroke-width="1" marker-end="url(#ah)"/>
<path d="M372,686 V710 H232" stroke-width="1.3" marker-end="url(#ah)"/>
</g>
</svg>
